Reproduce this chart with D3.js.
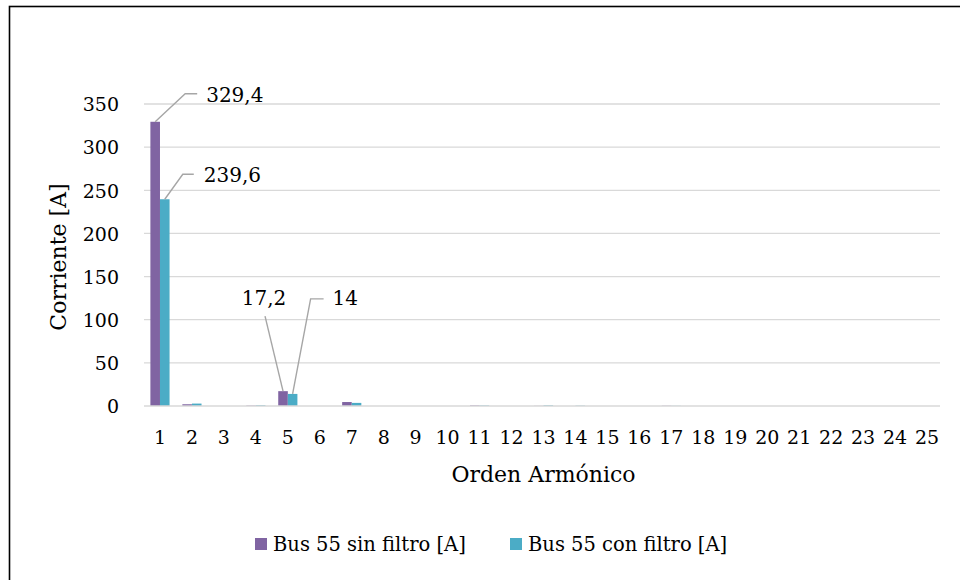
<!DOCTYPE html>
<html>
<head>
<meta charset="utf-8">
<script src="https://cdn.jsdelivr.net/npm/d3@7"></script>
<style>
  body { margin: 0; background: #fff; }
  svg { display: block; }
  text { font-family: "DejaVu Serif", serif; fill: #000; }
</style>
</head>
<body>
<svg id="chart" width="960" height="580"></svg>
<script>
// Harmonic order (categories)
const categories = ["1","2","3","4","5","6","7","8","9","10","11","12","13",
  "14","15","16","17","18","19","20","21","22","23","24","25"];
// Harmonic current per order [A]
const sinFiltro = [329.4, 2.0, 0, 0.5, 17.2, 0, 4.6, 0, 0, 0, 0.7, 0, 0.2,
  0, 0, 0, 0.3, 0, 0, 0, 0, 0, 0, 0, 0];
const conFiltro = [239.6, 2.8, 0, 0.9, 14, 0, 3.6, 0, 0, 0, 0.6, 0, 0.8,
  0.4, 0, 0, 0.2, 0, 0, 0, 0, 0, 0, 0, 0];
const seriesNames = ["Bus 55 sin filtro [A]", "Bus 55 con filtro [A]"];
const seriesColors = ["#8064a2", "#4bacc6"];
const yTicks = [0, 50, 100, 150, 200, 250, 300, 350];
const yMax = 350;
const xTitle = "Orden Armónico";
const yTitle = "Corriente [A]";

const seriesValues = [sinFiltro, conFiltro];
const fsTick = 19, fsLabel = 20, fsLegend = 19.5, fsTitle = 22;

const svg = d3.select("#chart");

// outer frame
svg.append("rect")
  .attr("x", 9.5).attr("y", 6.5)
  .attr("width", 1000).attr("height", 1000)
  .attr("fill", "#fff").attr("stroke", "#000").attr("stroke-width", 1.6);

const plot = { left: 144, right: 943, top: 104, bottom: 406 };

const x0 = d3.scaleBand().domain(categories).range([plot.left, plot.right]).padding(0);
const x1 = d3.scaleBand().domain([0, 1])
  .range([x0.bandwidth() * 0.2, x0.bandwidth() * 0.8]).padding(0);
const y = d3.scaleLinear().domain([0, yMax]).range([plot.bottom, plot.top]);

// horizontal gridlines
svg.append("g").selectAll("line").data(yTicks.filter(t => t > 0)).join("line")
  .attr("x1", plot.left).attr("x2", plot.right - 3)
  .attr("y1", d => y(d)).attr("y2", d => y(d))
  .attr("stroke", "#d9d9d9").attr("stroke-width", 1.3);

// y tick labels
const yAxis = d3.axisLeft(y).tickValues(yTicks).tickSize(0).tickPadding(0)
  .tickFormat(d3.format("d"));
const gy = svg.append("g").attr("transform", `translate(119,0)`).call(yAxis);
gy.select(".domain").remove();
gy.selectAll("text").style("font-family", '"DejaVu Serif", serif')
  .style("font-size", fsTick + "px").attr("fill", "#000").attr("dy", "0.36em").attr("x", 0);

// bars
const groups = svg.append("g").selectAll("g").data(categories).join("g")
  .attr("transform", d => `translate(${x0(d)},0)`);
groups.selectAll("rect")
  .data((d, i) => seriesValues.map((vals, s) => ({ s, v: vals[i] })))
  .join("rect")
  .attr("x", d => x1(d.s))
  .attr("width", x1.bandwidth())
  .attr("y", d => y(d.v))
  .attr("height", d => y(0) - y(d.v))
  .attr("fill", d => seriesColors[d.s]);

// category axis
const xAxis = d3.axisBottom(x0).tickSize(0).tickPadding(0);
const gx = svg.append("g").attr("transform", `translate(0,${plot.bottom})`).call(xAxis);
gx.select(".domain").remove();
gx.selectAll("text").style("font-family", '"DejaVu Serif", serif')
  .style("font-size", fsTick + "px").attr("fill", "#000").attr("y", 38).attr("dy", 0);
svg.append("line")
  .attr("x1", plot.left).attr("x2", plot.right - 3)
  .attr("y1", y(0)).attr("y2", y(0))
  .attr("stroke", "#d9d9d9").attr("stroke-width", 1.6);

// data labels with leader lines
const fmt = v => d3.format("~f")(v).replace(".", ",");
const labels = [
  { s: 0, cat: "1", elbow: [30, -28], tail: 12, text: [51, 1], anchor: "start" },
  { s: 1, cat: "1", elbow: [18, -25], tail: 11, text: [39, 1], anchor: "start" },
  { s: 0, cat: "5", elbow: [-18, -75], tail: 0, text: [-19, -18], anchor: "middle" },
  { s: 1, cat: "5", elbow: [18, -95], tail: 13, text: [40, -1], anchor: "start" }
];
labels.forEach(l => {
  const i = categories.indexOf(l.cat);
  const v = seriesValues[l.s][i];
  const bx = x0(l.cat) + x1(l.s) + x1.bandwidth() / 2;
  const by = y(v);
  const ex = bx + l.elbow[0], ey = by + l.elbow[1];
  const pts = [[bx, by], [ex, ey]];
  if (l.tail) pts.push([ex + l.tail, ey]);
  svg.append("path")
    .attr("d", d3.line()(pts))
    .attr("fill", "none").attr("stroke", "#a6a6a6").attr("stroke-width", 1.4);
  svg.append("text")
    .attr("x", bx + l.text[0]).attr("y", ey + l.text[1])
    .attr("dy", "0.36em")
    .attr("text-anchor", l.anchor)
    .style("font-size", fsLabel + "px")
    .text(fmt(v));
});

// axis titles
svg.append("text")
  .attr("x", (plot.left + plot.right) / 2).attr("y", 482)
  .attr("text-anchor", "middle").style("font-size", fsTitle + "px")
  .text(xTitle);
svg.append("text")
  .attr("transform", `translate(66,${(plot.top + plot.bottom) / 2 + 2}) rotate(-90)`)
  .attr("text-anchor", "middle").style("font-size", fsTitle + "px")
  .text(yTitle);

// legend
const legend = svg.append("g");
const legendX = [255, 510];
seriesNames.forEach((name, s) => {
  legend.append("rect")
    .attr("x", legendX[s]).attr("y", 538)
    .attr("width", 12).attr("height", 12)
    .attr("fill", seriesColors[s]);
  legend.append("text")
    .attr("x", legendX[s] + 18).attr("y", 551)
    .style("font-size", fsLegend + "px")
    .text(name);
});
</script>
</body>
</html>
